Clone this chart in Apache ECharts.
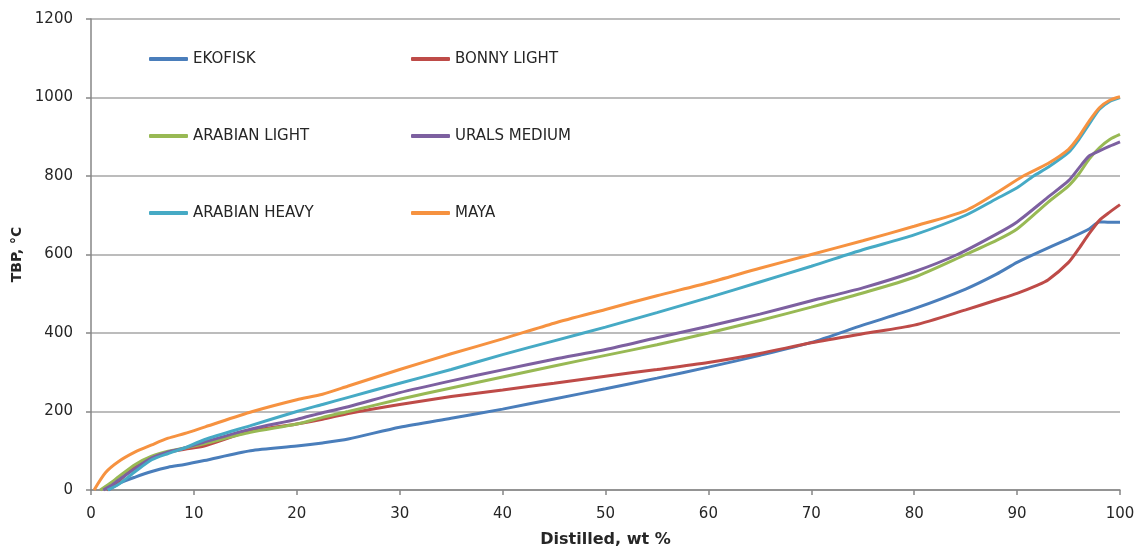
<!DOCTYPE html>
<html>
<head>
<meta charset="utf-8">
<script src="https://cdn.jsdelivr.net/npm/echarts@6/dist/echarts.min.js"></script>
<style>
html,body{margin:0;padding:0;background:#fff;}
#chart{width:1138px;height:553px;}
</style>
</head>
<body>
<div id="chart"></div>
<script>
// Distilled wt % (x) and TBP °C (y) for each crude
const ekofiskPct = [1.7, 3, 4.3, 5.9, 7.5, 9.1, 11, 15.5, 20, 22.5, 25, 30, 35, 40, 45, 50, 55, 60, 65, 70, 75, 80, 85, 88, 90, 92, 95, 97, 98, 99, 100];
const ekofiskTbp = [0, 20, 33, 47, 58, 65, 75, 100, 112, 120, 130, 160, 183, 206, 232, 258, 285, 313, 343, 376, 420, 462, 512, 550, 580, 605, 640, 665, 683, 682, 682];

const bonnyPct = [1.5, 3, 4.3, 5.9, 7.5, 9.1, 11, 15.5, 20, 22.5, 25, 30, 35, 40, 45, 50, 55, 60, 65, 70, 75, 80, 85, 88, 90, 92, 93, 95, 96, 97, 98, 99, 100];
const bonnyTbp = [0, 30, 60, 80, 96, 104, 112, 150, 168, 180, 195, 218, 238, 255, 272, 290, 307, 325, 348, 375, 398, 420, 459, 484, 501, 522, 535, 580, 615, 653, 687, 708, 727];

const arabLightPct = [0.9, 2, 2.65, 4.3, 5.9, 7.5, 9.1, 11, 15.5, 20, 22.5, 25, 30, 35, 40, 45, 50, 55, 60, 65, 70, 75, 80, 85, 88, 90, 93, 95, 96, 97, 98, 99, 100];
const arabLightTbp = [0, 20, 33, 65, 86, 99, 107, 118, 147, 168, 185, 200, 231, 260, 288, 316, 343, 370, 400, 432, 466, 502, 542, 600, 636, 665, 733, 775, 805, 843, 872, 893, 906];

const uralsPct = [1.2, 2, 2.65, 4.3, 5.9, 7.5, 9.1, 11, 15.5, 20, 22.5, 25, 30, 35, 40, 45, 50, 55, 60, 65, 70, 75, 80, 84.2, 88, 90, 93, 95, 96, 97, 98, 99, 100];
const uralsTbp = [0, 12, 25, 55, 82, 97, 107, 122, 155, 180, 197, 212, 248, 278, 306, 333, 358, 388, 417, 448, 482, 515, 556, 600, 652, 683, 746, 788, 820, 851, 864, 876, 887];

const arabHeavyPct = [1.6, 2.65, 4.3, 5.9, 7.5, 9.1, 11, 15.5, 20, 22.5, 25, 30, 35, 40, 45, 50, 55, 60, 65, 70, 75, 80, 85, 88, 90, 91.6, 93, 95, 96, 97, 98, 99, 100];
const arabHeavyTbp = [0, 14, 47, 77, 93, 107, 128, 164, 200, 218, 236, 272, 307, 345, 380, 415, 452, 490, 530, 570, 612, 650, 700, 742, 770, 800, 822, 860, 893, 932, 970, 990, 1000];

const mayaPct = [0.3, 1.4, 2.65, 4.3, 5.9, 7.5, 9.1, 11.1, 15.7, 20, 22.5, 25, 30, 35, 40, 45, 50, 55, 60, 65, 70, 75, 80, 85, 88, 90.6, 93, 95, 96, 97, 98, 99, 100];
const mayaTbp = [0, 44, 72, 97, 115, 132, 144, 161, 200, 230, 244, 265, 307, 347, 385, 425, 460, 495, 528, 565, 600, 635, 672, 712, 757, 800, 832, 868, 900, 940, 974, 993, 1002];

const seriesNames = ['EKOFISK', 'BONNY LIGHT', 'ARABIAN LIGHT', 'URALS MEDIUM', 'ARABIAN HEAVY', 'MAYA'];
const seriesColors = ['#4A7EBB', '#BE4B48', '#98B954', '#7D60A0', '#46AAC5', '#F69240'];
const xTicks = [0, 100, 10];
const yTicks = [0, 1200, 200];

const xs = [ekofiskPct, bonnyPct, arabLightPct, uralsPct, arabHeavyPct, mayaPct];
const ys = [ekofiskTbp, bonnyTbp, arabLightTbp, uralsTbp, arabHeavyTbp, mayaTbp];

const zip = (a, b) => a.map((v, i) => [v, b[i]]);

const chart = echarts.init(document.getElementById('chart'), null, {renderer: 'canvas'});
const font = 'DejaVu Sans';
const legendCommon = {
  orient: 'vertical',
  top: 50,
  padding: 0,
  itemGap: 59,
  itemWidth: 39,
  itemHeight: 4,
  icon: 'roundRect',
  textStyle: {fontFamily: font, fontSize: 15, color: '#262626', lineHeight: 18}
};
const option = {
  animation: false,
  backgroundColor: '#ffffff',
  color: seriesColors,
  grid: {left: 91, right: 18, top: 19, bottom: 60, containLabel: false},
  legend: [
    Object.assign({}, legendCommon, {left: 149, data: [seriesNames[0], seriesNames[2], seriesNames[4]]}),
    Object.assign({}, legendCommon, {left: 411, data: [seriesNames[1], seriesNames[3], seriesNames[5]]})
  ],
  xAxis: {
    type: 'value', min: xTicks[0], max: xTicks[1], interval: xTicks[2],
    name: 'Distilled, wt %', nameLocation: 'middle', nameGap: 42,
    nameTextStyle: {fontFamily: font, fontSize: 16, fontWeight: 'bold', color: '#262626'},
    axisLine: {lineStyle: {color: '#868686', width: 1.5}},
    axisTick: {show: true, length: 5, lineStyle: {color: '#868686', width: 1.5}},
    axisLabel: {fontFamily: font, fontSize: 15, color: '#262626', margin: 17, formatter: v => String(v)},
    splitLine: {show: false}
  },
  yAxis: {
    type: 'value', min: yTicks[0], max: yTicks[1], interval: yTicks[2],
    name: 'TBP, °C', nameLocation: 'middle', nameGap: 62, nameRotate: 90,
    nameTextStyle: {fontFamily: font, fontSize: 14, fontWeight: 'bold', color: '#262626'},
    axisLine: {show: true, lineStyle: {color: '#868686', width: 1.5}},
    axisTick: {show: true, length: 5, lineStyle: {color: '#868686', width: 1.5}},
    axisLabel: {fontFamily: font, fontSize: 15, color: '#262626', margin: 18, formatter: v => String(v)},
    splitLine: {show: true, lineStyle: {color: '#A6A6A6', width: 1.5}}
  },
  series: seriesNames.map((n, i) => ({
    name: n,
    type: 'line',
    data: zip(xs[i], ys[i]),
    symbol: 'none',
    smooth: 0.25,
    lineStyle: {width: 3, color: seriesColors[i]},
    itemStyle: {color: seriesColors[i]},
    clip: false
  }))
};
chart.setOption(option);
</script>
</body>
</html>
